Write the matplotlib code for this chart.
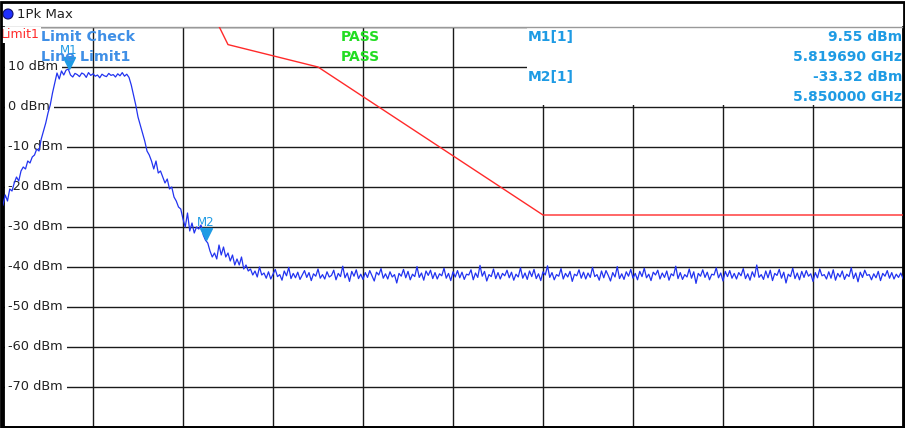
import matplotlib.pyplot as plt
import numpy as np
from matplotlib.patches import Rectangle, Ellipse
from matplotlib.transforms import offset_copy

# sweep settings (GHz, dBm)
f_start = 5.805
f_stop = 6.005
ref_levels = [10, 0, -10, -20, -30, -40, -50, -60, -70]
y_labels = ["10 dBm", "0 dBm", "-10 dBm", "-20 dBm", "-30 dBm",
            "-40 dBm", "-50 dBm", "-60 dBm", "-70 dBm"]

# trace 1 (Pk Max), 0.5 MHz per point
trace = [
    -24.5, -22.0, -23.5, -20.5, -21.0, -19.0, -17.5, -18.5, -16.0, -15.0,
    -15.5, -13.5, -14.0, -12.5, -12.0, -10.5, -11.0, -8.0, -6.0, -4.0, -1.5,
    0.5, 3.5, 6.0, 8.5, 7.0, 9.0, 8.0, 9.2, 9.5, 8.0,
    7.5, 8.4, 8.1, 7.6, 8.5, 8.2, 7.4, 8.6, 7.9, 8.3, 7.7, 8.0, 7.3, 8.2,
    7.8, 7.6, 8.4, 7.9, 8.1, 7.5, 8.3, 7.8, 8.6, 7.7, 8.2, 7.4,
    5.5, 3.0, 0.5, -2.5, -4.5, -6.5, -8.5, -11.0, -12.0, -13.5, -15.5,
    -13.5, -16.5, -16.0, -17.5, -19.0, -18.0, -20.5, -20.0, -22.5, -23.5,
    -25.0, -25.5, -28.0, -30.0, -26.5, -31.0, -29.0, -31.5, -30.0, -30.5,
    -29.5, -32.0, -33.3, -34.0, -36.0, -37.5, -36.5, -38.0, -34.5, -37.0,
    -35.0, -37.5, -36.5, -38.5, -37.0, -39.5, -38.0, -39.5, -37.5, -40.5,
    -39.5, -41.0, -40.5, -42.0, -41.0, -42.5, -40.0, -42.0,
    -41.5, -42.8, -41.2, -43.0, -41.8, -40.6, -42.4, -41.9, -43.3, -41.0, -42.2, -40.1, -42.9, -41.6, -42.7,
    -41.3, -43.1, -42.0, -40.9, -42.6, -41.4, -43.4, -41.7, -42.3, -40.5, -42.8, -41.9, -43.0, -41.2, -42.5,
    -42.1, -40.8, -43.2, -41.6, -42.4, -39.8, -42.7, -41.5, -43.6, -41.1, -42.3, -40.7, -42.9, -41.8, -43.1,
    -41.4, -42.6, -40.9, -42.2, -43.5, -41.3, -42.0, -40.4, -42.8, -41.7, -43.0, -41.2, -42.5, -41.9, -44.0,
    -41.6, -42.3, -40.6, -42.7, -41.1, -43.2, -41.8, -42.4, -39.9, -42.6, -41.5, -43.3, -41.0, -42.1, -40.8,
    -42.9, -41.4, -43.0, -41.7, -42.2, -40.3, -42.8, -41.6, -43.4, -41.2, -42.5, -40.9, -42.7, -41.3, -43.1,
    -41.8, -42.0, -40.7, -43.2, -41.5, -42.6, -39.6, -42.3, -41.1, -43.5, -41.9, -42.4, -40.5, -42.9, -41.4,
    -43.0, -41.6, -42.2, -40.8, -42.7, -41.3, -43.3, -41.8, -42.5, -40.2, -42.8, -41.5, -43.1, -41.0, -42.4,
    -40.6, -42.9, -41.7, -43.4, -41.2, -42.0, -39.7, -42.6, -41.4, -43.2, -41.9, -42.3, -40.4, -43.0, -41.6,
    -42.5, -41.1, -43.6, -41.8, -42.2, -40.7, -42.8, -41.3, -43.0, -41.5, -42.6, -40.1, -42.4, -41.9, -43.3,
    -41.0, -42.7, -40.9, -42.1, -43.5, -41.4, -42.5, -39.9, -42.9, -41.7, -43.1, -41.2, -42.3, -40.6, -42.8,
    -41.6, -43.2, -41.1, -42.4, -40.3, -42.7, -41.8, -43.4, -41.3, -42.0, -40.8, -43.0, -41.5, -42.6, -41.0,
    -43.3, -41.7, -42.2, -39.8, -42.9, -41.4, -43.1, -41.9, -42.5, -40.5, -42.8, -41.2, -44.1, -41.6, -42.3,
    -40.7, -42.6, -41.3, -43.2, -41.8, -42.0, -40.2, -42.7, -41.5, -43.5, -41.1, -42.4, -40.9, -42.8, -41.6,
    -43.0, -41.4, -42.2, -40.4, -42.9, -41.7, -43.3, -41.2, -42.5, -39.5, -42.6, -41.9, -43.1, -41.0, -42.7,
    -40.8, -43.4, -41.6, -42.1, -40.6, -42.8, -41.3, -44.0, -41.8, -42.4, -40.3, -42.9, -41.5, -43.2, -41.1,
    -42.6, -40.9, -42.3, -41.7, -43.6, -41.4, -42.7, -40.5, -42.2, -41.9, -43.0, -41.2, -42.8, -40.7, -43.3,
    -41.6, -42.5, -41.0, -43.1, -41.8, -42.4, -40.2, -42.9, -41.5, -43.7, -41.3, -42.6, -40.8, -42.1, -41.9,
    -43.2, -41.7, -42.7, -41.1, -43.4, -41.6, -42.3, -40.9, -42.8, -41.4, -43.0, -41.8, -42.6, -41.5, -42.9,
]

# limit line 1 (upper band-edge mask)
limit_freq = [5.850, 5.855, 5.875, 5.925, 6.005]
limit_level = [27.0, 15.6, 10.0, -27.0, -27.0]

# markers
marker_names = ["M1", "M2"]
marker_freq = [5.819690, 5.850000]
marker_level = [9.55, -33.32]
marker_texts = ["9.55 dBm", "5.819690 GHz", "-33.32 dBm", "5.850000 GHz"]

trace_col = "#2233f0"
mk_col = "#1e9be4"
lc_col = "#3f8fe6"
pass_col = "#22dd22"

fig = plt.figure(figsize=(9.05, 4.28), dpi=100)
ax = fig.add_axes([3 / 905, 1 / 428, 900 / 905, 400 / 428])

freq = np.linspace(f_start, f_stop, len(trace))
ax.plot(freq, trace, color=trace_col, lw=0.9, zorder=3)
ax.plot(limit_freq, limit_level, color="#ff2a2a", lw=1.0, zorder=3)

ax.set_xlim(f_start, f_stop)
ax.set_ylim(-80, 20)
ax.set_xticks(np.linspace(f_start, f_stop, 11))
ax.set_yticks(np.arange(-80, 21, 10))
ax.set_axisbelow(True)
ax.grid(True, color="#1a1a1a", lw=1.0)
ax.tick_params(length=0, labelbottom=False, labelleft=False)
for side in ["left", "bottom", "right"]:
    ax.spines[side].set_color("black")
    ax.spines[side].set_linewidth(2)
ax.spines["top"].set_color("#999999")
ax.spines["top"].set_linewidth(1)

# marker info box hides the grid in the top right corner
ax.add_patch(Rectangle((0.582, 0.804), 0.42, 0.2, transform=ax.transAxes,
                       facecolor="white", edgecolor="none", zorder=1.5,
                       clip_on=False))

# level labels sit inside the grid with a white background
for lev, lab in zip(ref_levels, y_labels):
    ax.text(0.006, lev, lab, transform=ax.get_yaxis_transform(),
            ha="left", va="center", fontsize=9.3, color="#222222",
            bbox=dict(facecolor="white", edgecolor="none", pad=2.5), zorder=2)

# markers: triangle tip on the trace, name above
tri = offset_copy(ax.transData, fig=fig, y=4.5, units="points")
lab = offset_copy(ax.transData, fig=fig, y=13, units="points")
for name, f, lv in zip(marker_names, marker_freq, marker_level):
    ax.plot(f, lv, marker="v", ms=8, color=mk_col, transform=tri, zorder=4)
    ax.text(f, lv, name, transform=lab, ha="center", va="center",
            fontsize=8.5, color=mk_col, zorder=4)

# limit check / marker table
ax.text(-0.002, 0.98, "Limit1", transform=ax.transAxes, ha="left", va="center",
        fontsize=9, color="#ff2a2a", zorder=4,
        bbox=dict(facecolor="white", edgecolor="none", pad=0.8))
ax.text(0.042, 0.975, "Limit Check", transform=ax.transAxes, ha="left",
        va="center", fontsize=10.3, fontweight="bold", color=lc_col, zorder=4)
ax.text(0.042, 0.925, "Line Limit1", transform=ax.transAxes, ha="left",
        va="center", fontsize=10.3, fontweight="bold", color=lc_col, zorder=4)
ax.text(0.3756, 0.975, "PASS", transform=ax.transAxes, ha="left",
        va="center", fontsize=10, fontweight="bold", color=pass_col, zorder=4)
ax.text(0.3756, 0.925, "PASS", transform=ax.transAxes, ha="left",
        va="center", fontsize=10, fontweight="bold", color=pass_col, zorder=4)
ax.text(0.583, 0.975, "M1[1]", transform=ax.transAxes, ha="left",
        va="center", fontsize=10, fontweight="bold", color=mk_col, zorder=4)
ax.text(0.583, 0.875, "M2[1]", transform=ax.transAxes, ha="left",
        va="center", fontsize=10, fontweight="bold", color=mk_col, zorder=4)
for i, t in enumerate(marker_texts):
    ax.text(0.999, 0.975 - 0.05 * i, t, transform=ax.transAxes, ha="right",
            va="center", fontsize=10, fontweight="bold", color=mk_col, zorder=4)

# window title bar
fig.add_artist(Ellipse((8 / 905, 1 - 14 / 428), 10 / 905, 10 / 428,
                       facecolor="#2030ff", edgecolor="#10106a", lw=0.8))
fig.text(17 / 905, 1 - 14 / 428, "1Pk Max", ha="left", va="center",
         fontsize=9.5, color="#222222")
fig.add_artist(Rectangle((1 / 905, 1 / 428), 903 / 905, 425 / 428,
                         facecolor="none", edgecolor="black", lw=2))

fig.savefig("out.png", dpi=100)
